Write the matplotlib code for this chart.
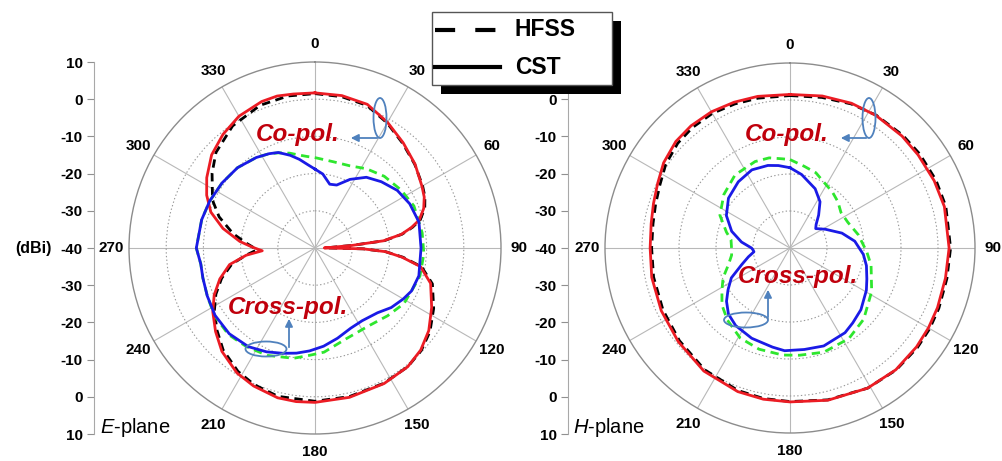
import numpy as np
import matplotlib
matplotlib.use('Agg')
import matplotlib.pyplot as plt
from matplotlib.patches import Ellipse, Rectangle, FancyArrowPatch
from matplotlib.lines import Line2D

plt.rcParams['font.family'] = 'Liberation Sans'
plt.rcParams['mathtext.fontset'] = 'custom'
plt.rcParams['mathtext.it'] = 'Liberation Sans:italic'
plt.rcParams['mathtext.rm'] = 'Liberation Sans'
plt.rcParams['lines.scale_dashes'] = False

# ---- E-plane data (angle in deg, gain in dBi) ----
e_co_cst_ang = [0, 10, 20, 30, 40, 50, 60, 65, 70, 75, 78, 81, 84, 86, 88, 89.5, 91, 93, 96, 100,
                107, 117, 126, 134, 142, 153, 167, 180, 187, 194, 204, 212, 222, 230, 238, 245, 252, 259, 264, 267,
                269, 271, 275, 282, 289, 296, 303, 312, 321, 330, 340, 346, 352, 360]
e_co_cst = [1.7, 1.6, 1.1, -1.0, -3.1, -4.9, -6.8, -7.6, -8.9, -11.0, -13.5, -16.5, -21.5, -30.0, -36.0, -37.5, -27.0, -21.0, -16.5, -11.2,
            -7.5, -4.8, -2.2, -0.5, 0.5, 0.9, 1.2, 1.5, 1.6, 1.5, 0.6, -0.4, -2.6, -5.1, -7.6, -10.1, -13.1, -16.6, -21.4, -25.8,
            -24.5, -23.0, -19.7, -14.7, -10.4, -7.6, -5.3, -2.6, -0.7, 0.9, 1.9, 2.1, 1.8, 1.7]

e_co_hfss_ang = [0, 10, 20, 30, 40, 50, 60, 65, 70, 75, 78, 81, 84, 86, 88, 89.5, 91, 93, 96, 100,
                 107, 117, 126, 134, 142, 153, 167, 180, 194, 204, 212, 222, 230, 238, 245, 252, 259, 264, 268, 271,
                 274, 280, 288, 295, 306, 314, 326, 339, 350, 360]
e_co_hfss = [1.5, 1.3, 0.8, -1.2, -3.3, -5.0, -6.6, -7.4, -8.6, -10.7, -13.2, -16.3, -21.3, -30.0, -36.0, -37.0, -27.0, -21.0, -16.2, -10.9,
             -7.0, -4.2, -1.8, -0.3, 0.5, 0.8, 1.0, 1.2, 1.1, 0.2, -0.9, -3.1, -5.6, -8.1, -10.6, -13.6, -17.2, -21.3, -24.3, -23.2,
             -21.5, -17.6, -12.9, -9.6, -5.8, -3.0, -0.4, 1.1, 1.5, 1.5]

e_x_cst_ang = [0, 6, 13, 19, 27, 36, 45, 55, 65, 76, 90, 105, 114, 120, 128, 136, 147, 156, 166, 175,
               183, 190, 197, 205, 214, 225, 236, 246, 255, 262, 270, 284, 294, 305, 316, 327, 334, 339, 345, 350,
               355, 360]
e_x_cst = [-18.8, -20.0, -22.4, -22.1, -19.3, -16.5, -14.8, -13.0, -11.9, -11.2, -11.5, -11.1, -11.6, -12.6, -14.0, -15.8, -16.7, -16.4, -15.0, -13.5,
           -12.3, -11.3, -10.4, -9.2, -8.0, -7.4, -7.6, -8.3, -8.8, -9.0, -8.1, -8.6, -9.0, -9.5, -10.0, -11.0, -11.8, -12.5, -14.2, -15.8,
           -17.5, -18.8]

e_x_hfss_ang = [0, 12, 23, 33, 44, 56, 67, 82, 93, 99, 105, 111, 122, 133, 146, 161, 175, 183, 191, 204,
                215, 225, 236, 246, 255, 262, 270, 284, 294, 305, 316, 327, 334, 339, 345, 350, 355, 360]
e_x_hfss = [-15.7, -16.3, -16.0, -14.6, -13.2, -12.1, -11.1, -10.9, -10.7, -10.9, -10.8, -11.4, -11.8, -13.3, -14.6, -14.2, -11.9, -11.1, -9.8, -8.4,
            -7.7, -7.1, -7.4, -8.3, -8.8, -9.0, -8.1, -8.6, -9.0, -9.5, -10.0, -11.0, -11.8, -12.6, -13.6, -14.6, -15.3, -15.7]

# ---- H-plane data ----
h_co_cst_ang = [0, 12, 23, 33, 45, 54, 65, 75, 90, 101, 112, 120, 128, 139, 151, 166, 180, 190, 200, 215,
                230, 244, 258, 270, 280, 288, 296, 304, 313, 321, 330, 339, 348, 360]
h_co_cst = [1.5, 2.0, 2.5, 2.7, 2.8, 2.8, 3.0, 3.2, 3.0, 2.8, 3.0, 3.2, 3.4, 3.6, 3.3, 2.4, 1.6, 1.5, 1.3, 0.6,
            -0.6, -1.3, -1.8, -2.2, -1.9, -1.2, -0.2, 1.2, 2.2, 2.5, 2.5, 2.2, 1.9, 1.5]

h_co_hfss_ang = [0, 12, 23, 33, 45, 54, 65, 75, 90, 101, 112, 120, 128, 139, 151, 166, 180, 190, 200, 215,
                 230, 244, 258, 270, 280, 288, 296, 304, 313, 321, 330, 339, 348, 360]
h_co_hfss = [1.2, 1.6, 2.3, 2.8, 3.1, 3.3, 3.5, 3.6, 3.4, 3.2, 3.4, 3.6, 3.7, 3.7, 3.3, 2.3, 1.5, 1.3, 1.0, 0.2,
             -1.0, -1.8, -2.3, -2.6, -2.4, -1.8, -0.9, 0.5, 1.5, 1.9, 2.0, 1.7, 1.4, 1.2]

h_x_cst_ang = [0, 9, 23, 33, 41, 48, 53, 56, 62, 74, 84, 95, 103, 112, 119, 131, 140, 147, 161, 172,
               183, 190, 203, 215, 223, 230, 236, 243, 251, 258, 264, 267, 270, 277, 286, 297, 309, 322, 334, 345,
               352, 360]
h_x_cst = [-18.3, -19.9, -22.6, -25.1, -28.2, -30.5, -31.3, -30.7, -29.2, -25.4, -22.4, -20.1, -18.8, -17.6, -16.4, -14.6, -13.6, -12.7, -12.0, -12.3,
           -12.2, -12.8, -13.5, -14.4, -15.6, -17.6, -19.8, -22.2, -26.2, -28.5, -30.2, -30.0, -29.6, -26.8, -23.6, -20.7, -18.6, -17.3, -16.5, -16.9,
           -17.5, -18.3]

h_x_hfss_ang = [0, 10, 19, 28, 37, 46, 55, 66, 79, 93, 102, 118, 134, 147, 162, 175, 184, 197, 209, 221,
                230, 238, 246, 255, 263, 270, 278, 284, 295, 309, 323, 338, 347, 355, 360]
h_x_hfss = [-16.1, -17.6, -18.5, -20.1, -21.0, -22.0, -23.2, -22.9, -21.2, -19.2, -17.6, -15.0, -12.3, -10.8, -10.4, -10.9, -11.0, -11.4, -12.2, -14.2,
            -16.0, -18.3, -20.2, -22.8, -24.1, -24.2, -23.9, -22.3, -19.1, -17.0, -15.3, -14.8, -15.0, -15.8, -16.1]

theta_ticks = list(range(0, 360, 30))
theta_labels = [str(t) for t in theta_ticks]
r_grid = [-30, -20, -10, 0]
side_ticks = list(range(-50, 51, 10))
side_labels = ['10', '0', '-10', '-20', '-30', '-40', '-30', '-20', '-10', '0', '10']
# top label of the right scale sits under the legend box in the original
side_labels_right = ['10', '0', '-10', '-20', '-30', '-40', '-30', '-20', '-10', '0', '']

W, H = 1003, 461
fig = plt.figure(figsize=(W / 100, H / 100), dpi=100)


def fx(px):
    return px / W


def fy(py):
    return 1 - py / H


RED = '#ec1c24'
BLUE = '#1a1ae6'
GREEN = '#2ee62e'
ANN = '#4f81bd'
TXT = '#c0000c'


def polar_panel(cx, rad, series):
    ax = fig.add_axes([fx(cx - rad), fy(248 + rad), 2 * rad / W, 2 * rad / H], projection='polar')
    ax.set_theta_zero_location('N')
    ax.set_theta_direction(-1)
    for ang, val, col, dashed, z in series:
        if dashed:
            ax.plot(np.deg2rad(ang), val, color=col, lw=2.0, dashes=(6, 4), zorder=z)
        else:
            ax.plot(np.deg2rad(ang), val, color=col, lw=2.0, zorder=z)
    ax.set_ylim(-40, 10)
    ax.set_yticks(r_grid)
    ax.set_yticklabels([])
    ax.set_xticks(np.deg2rad(theta_ticks))
    ax.set_xticklabels(theta_labels, fontsize=11, fontweight='bold')
    ax.set_xticks(np.deg2rad(np.arange(0, 360, 10)), minor=True)
    ax.tick_params(axis='x', which='major', length=0, pad=6)
    ax.tick_params(axis='x', which='minor', length=4, direction='in', color='#808080')
    ax.xaxis.grid(True, color='#b8b8b8', lw=0.8, ls='-')
    ax.yaxis.grid(True, color='#999999', lw=0.8, ls=':')
    ax.spines['polar'].set_color('#8c8c8c')
    ax.spines['polar'].set_linewidth(1.0)
    return ax


def side_axis(x, labels):
    ax = fig.add_axes([fx(x), fy(434), 0.0005, 372 / H])
    ax.set_ylim(-50, 50)
    ax.set_yticks(side_ticks)
    ax.set_yticklabels(labels, fontsize=11, fontweight='bold')
    ax.set_xticks([])
    for s in ['top', 'right', 'bottom']:
        ax.spines[s].set_visible(False)
    ax.spines['left'].set_color('#a8a8a8')
    ax.tick_params(axis='y', length=5, color='#909090', pad=3)
    ax.patch.set_visible(False)
    return ax


def mark(ex, ey, ew, eh, p0, p1):
    fig.add_artist(Ellipse((fx(ex), fy(ey)), ew / W, eh / H, transform=fig.transFigure,
                           fill=False, ec=ANN, lw=1.3, zorder=6))
    fig.add_artist(FancyArrowPatch((fx(p0[0]), fy(p0[1])), (fx(p1[0]), fy(p1[1])),
                                   transform=fig.transFigure, arrowstyle='-|>',
                                   mutation_scale=11, color=ANN, lw=1.3, zorder=6))


polar_panel(315, 186, [
    (e_co_hfss_ang, e_co_hfss, 'black', True, 3),
    (e_co_cst_ang, e_co_cst, RED, False, 4),
    (e_x_hfss_ang, e_x_hfss, GREEN, True, 3),
    (e_x_cst_ang, e_x_cst, BLUE, False, 5),
])
polar_panel(790, 185, [
    (h_co_hfss_ang, h_co_hfss, 'black', True, 3),
    (h_co_cst_ang, h_co_cst, RED, False, 4),
    (h_x_hfss_ang, h_x_hfss, GREEN, True, 3),
    (h_x_cst_ang, h_x_cst, BLUE, False, 5),
])
side_axis(94, side_labels)
side_axis(568, side_labels_right)

fig.text(fx(52), fy(248), '(dBi)', fontsize=11.5, fontweight='bold', ha='right', va='center')
fig.text(fx(100), fy(427), r'$\mathit{E}$-plane', fontsize=14.5, ha='left', va='center')
fig.text(fx(573), fy(427), r'$\mathit{H}$-plane', fontsize=14.5, ha='left', va='center')

ann_kw = dict(color=TXT, fontsize=17.5, fontweight='bold', fontstyle='italic', ha='center', va='center', zorder=7)
fig.text(fx(298), fy(134), 'Co-pol.', **ann_kw)
fig.text(fx(288), fy(307), 'Cross-pol.', **ann_kw)
fig.text(fx(787), fy(134), 'Co-pol.', **ann_kw)
fig.text(fx(798), fy(276), 'Cross-pol.', **ann_kw)

mark(380, 118, 13, 40, (380, 138), (348, 138))
mark(266, 349, 41, 15, (289, 350), (289, 316))
mark(869, 118, 13, 40, (869, 138), (838, 138))
mark(746, 320, 44, 15, (768, 320), (768, 287))

# legend box with black shadow
fig.add_artist(Rectangle((fx(441), fy(94)), 180 / W, 73 / H, transform=fig.transFigure,
                         fc='black', ec='none', zorder=10))
fig.add_artist(Rectangle((fx(432), fy(85)), 180 / W, 73 / H, transform=fig.transFigure,
                         fc='white', ec='#555555', lw=1.0, zorder=11))
fig.add_artist(Line2D([fx(435), fx(498)], [fy(30), fy(30)], transform=fig.transFigure,
                      color='black', lw=3, dashes=(14.5, 14.5), zorder=12))
fig.add_artist(Line2D([fx(435), fx(500)], [fy(67), fy(67)], transform=fig.transFigure,
                      color='black', lw=3, zorder=12))
fig.text(fx(515), fy(30), 'HFSS', fontsize=16.5, fontweight='bold', va='center', zorder=12)
fig.text(fx(515), fy(67), 'CST', fontsize=16.5, fontweight='bold', va='center', zorder=12)

fig.savefig('out.png', dpi=100)
